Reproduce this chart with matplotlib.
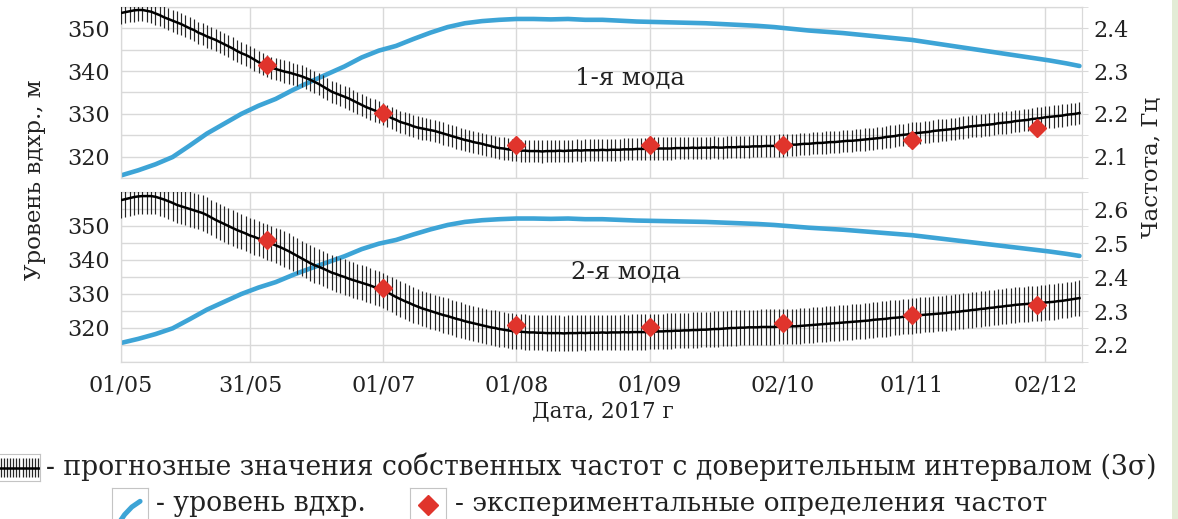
import numpy as np
import pandas as pd
import matplotlib
matplotlib.use("Agg")
import matplotlib.pyplot as plt
from matplotlib.ticker import MultipleLocator, FixedLocator
from matplotlib.patches import Rectangle

plt.rcParams['font.family'] = ['DejaVu Serif']

# ---------------------------------------------------------------- data
# daily forecast of natural frequencies, 01/05/2017 .. 10/12/2017
days = pd.date_range("2017-05-01", "2017-12-10", freq="D")

freq_mode1 = [
    2.436, 2.438, 2.440, 2.442, 2.443, 2.443, 2.441, 2.439, 2.435, 2.431,
    2.426, 2.422, 2.418, 2.414, 2.410, 2.405, 2.400, 2.396, 2.390, 2.386,
    2.381, 2.377, 2.373, 2.368, 2.363, 2.358, 2.353, 2.347, 2.342, 2.338,
    2.333, 2.327, 2.321, 2.316, 2.312, 2.308, 2.305, 2.302, 2.299, 2.297,
    2.294, 2.291, 2.288, 2.284, 2.280, 2.275, 2.270, 2.264, 2.258, 2.252,
    2.248, 2.244, 2.240, 2.236, 2.231, 2.226, 2.221, 2.216, 2.212, 2.208,
    2.204, 2.200, 2.195, 2.190, 2.186, 2.181, 2.178, 2.175, 2.171, 2.168,
    2.166, 2.164, 2.162, 2.160, 2.157, 2.154, 2.151, 2.148, 2.145, 2.142,
    2.139, 2.137, 2.134, 2.132, 2.130, 2.127, 2.125, 2.122, 2.120, 2.119,
    2.117, 2.116, 2.115, 2.114, 2.114, 2.113, 2.113, 2.113, 2.112, 2.113,
    2.113, 2.113, 2.114, 2.113, 2.114, 2.114, 2.115, 2.114, 2.115, 2.115,
    2.115, 2.115, 2.116, 2.115, 2.116, 2.116, 2.116, 2.117, 2.117, 2.117,
    2.118, 2.118, 2.118, 2.118, 2.119, 2.119, 2.119, 2.119, 2.119, 2.120,
    2.120, 2.120, 2.120, 2.121, 2.120, 2.121, 2.121, 2.121, 2.122, 2.121,
    2.121, 2.122, 2.122, 2.122, 2.123, 2.123, 2.123, 2.124, 2.124, 2.124,
    2.125, 2.125, 2.125, 2.126, 2.126, 2.127, 2.128, 2.128, 2.129, 2.130,
    2.130, 2.131, 2.132, 2.132, 2.133, 2.134, 2.134, 2.135, 2.136, 2.137,
    2.137, 2.138, 2.139, 2.140, 2.141, 2.142, 2.143, 2.144, 2.146, 2.147,
    2.148, 2.150, 2.151, 2.152, 2.154, 2.155, 2.156, 2.157, 2.158, 2.160,
    2.161, 2.162, 2.163, 2.164, 2.165, 2.167, 2.168, 2.170, 2.171, 2.172,
    2.173, 2.174, 2.175, 2.176, 2.178, 2.179, 2.180, 2.181, 2.183, 2.184,
    2.185, 2.186, 2.188, 2.189, 2.190, 2.192, 2.193, 2.194, 2.195, 2.196,
    2.198, 2.199, 2.200, 2.202,
]

freq_mode2 = [
    2.626, 2.629, 2.632, 2.635, 2.637, 2.638, 2.638, 2.638, 2.636, 2.632,
    2.628, 2.623, 2.618, 2.612, 2.608, 2.604, 2.600, 2.596, 2.592, 2.588,
    2.582, 2.575, 2.568, 2.562, 2.556, 2.550, 2.544, 2.538, 2.533, 2.528,
    2.522, 2.518, 2.513, 2.508, 2.503, 2.498, 2.493, 2.488, 2.482, 2.476,
    2.469, 2.462, 2.455, 2.448, 2.441, 2.435, 2.430, 2.425, 2.419, 2.413,
    2.409, 2.404, 2.400, 2.395, 2.391, 2.387, 2.383, 2.379, 2.375, 2.370,
    2.366, 2.361, 2.355, 2.348, 2.341, 2.335, 2.329, 2.324, 2.318, 2.313,
    2.308, 2.304, 2.300, 2.296, 2.292, 2.288, 2.285, 2.281, 2.277, 2.274,
    2.270, 2.267, 2.264, 2.261, 2.258, 2.255, 2.252, 2.250, 2.247, 2.245,
    2.243, 2.241, 2.240, 2.239, 2.238, 2.237, 2.237, 2.236, 2.236, 2.235,
    2.235, 2.235, 2.235, 2.234, 2.235, 2.235, 2.235, 2.236, 2.235, 2.236,
    2.236, 2.236, 2.237, 2.236, 2.237, 2.237, 2.237, 2.238, 2.237, 2.238,
    2.238, 2.238, 2.238, 2.239, 2.239, 2.240, 2.240, 2.241, 2.241, 2.242,
    2.242, 2.243, 2.243, 2.244, 2.244, 2.245, 2.245, 2.246, 2.247, 2.247,
    2.248, 2.249, 2.250, 2.250, 2.251, 2.251, 2.252, 2.252, 2.252, 2.253,
    2.253, 2.253, 2.253, 2.254, 2.254, 2.254, 2.255, 2.255, 2.256, 2.257,
    2.258, 2.259, 2.260, 2.261, 2.262, 2.263, 2.264, 2.265, 2.266, 2.267,
    2.268, 2.269, 2.270, 2.271, 2.272, 2.274, 2.275, 2.276, 2.277, 2.279,
    2.280, 2.281, 2.283, 2.284, 2.285, 2.287, 2.288, 2.289, 2.290, 2.291,
    2.292, 2.293, 2.294, 2.296, 2.297, 2.298, 2.300, 2.301, 2.303, 2.304,
    2.306, 2.307, 2.309, 2.310, 2.312, 2.313, 2.315, 2.316, 2.318, 2.319,
    2.320, 2.321, 2.322, 2.323, 2.324, 2.325, 2.326, 2.327, 2.329, 2.330,
    2.332, 2.334, 2.336, 2.338,
]

# 3-sigma half widths of the forecast interval, Hz
ci_mode1 = 0.026
ci_mode2 = 0.052

# reservoir level, m (every 4 days, last point on 10/12)
level_dates = pd.date_range("2017-05-01", periods=56, freq="4D").append(
    pd.DatetimeIndex(["2017-12-10"]))
level = [
    315.6, 316.8, 318.2, 319.9, 322.6, 325.4, 327.7, 330.0, 331.9, 333.5,
    335.6, 337.5, 339.3, 341.1, 343.2, 344.8, 345.9, 347.5, 349.0, 350.3,
    351.2, 351.7, 352.0, 352.2, 352.2, 352.1, 352.2, 352.0, 352.0, 351.8,
    351.6, 351.5, 351.4, 351.3, 351.2, 351.0, 350.8, 350.6, 350.3, 349.9,
    349.5, 349.2, 348.9, 348.5, 348.1, 347.7, 347.3, 346.7, 346.1, 345.5,
    344.9, 344.3, 343.7, 343.1, 342.5, 341.8, 341.2,
]

# experimental frequency determinations
exp_dates = pd.to_datetime(["2017-06-04", "2017-07-01", "2017-08-01",
                            "2017-09-01", "2017-10-02", "2017-11-01",
                            "2017-11-30"])
exp_mode1 = [2.314, 2.202, 2.127, 2.127, 2.127, 2.139, 2.167]
exp_mode2 = [2.509, 2.368, 2.259, 2.253, 2.265, 2.288, 2.318]

tick_dates = pd.to_datetime(["2017-05-01", "2017-05-31", "2017-07-01",
                             "2017-08-01", "2017-09-01", "2017-10-02",
                             "2017-11-01", "2017-12-02"])
tick_labels = ["01/05", "31/05", "01/07", "01/08", "01/09", "02/10",
               "01/11", "02/12"]
level_ticks = [320, 330, 340, 350]

# ---------------------------------------------------------------- style
BLUE = "#3da4d6"
RED = "#e0342c"
GRID = "#d9d9d9"
TXT = "#222222"
W, H = 1178, 519

fig = plt.figure(figsize=(W / 100, H / 100), dpi=100)
fig.patch.set_facecolor("white")


def px_rect(x0, y0, x1, y1):
    return [x0 / W, 1 - y1 / H, (x1 - x0) / W, (y1 - y0) / H]


panels = [
    dict(rect=px_rect(121, 7, 1082, 178), lev_lim=(315, 355),
         f_lim=(2.05, 2.45), f_ticks=[2.1, 2.2, 2.3, 2.4],
         freq=freq_mode1, ci=ci_mode1, exp=exp_mode1,
         name="1-я мода", npos=(0.530, 0.585), xlabels=False),
    dict(rect=px_rect(121, 192, 1082, 362), lev_lim=(310, 360),
         f_lim=(2.15, 2.65), f_ticks=[2.2, 2.3, 2.4, 2.5, 2.6],
         freq=freq_mode2, ci=ci_mode2, exp=exp_mode2,
         name="2-я мода", npos=(0.525, 0.529), xlabels=True),
]

xlim = (days[0], days[-1] + pd.Timedelta(hours=14))

for p in panels:
    ax = fig.add_axes(p["rect"])
    ax.plot(level_dates, level, color=BLUE, lw=3.3,
            solid_capstyle="round", solid_joinstyle="round", zorder=2)
    ax.set_ylim(*p["lev_lim"])
    ax.yaxis.set_major_locator(FixedLocator(level_ticks))
    ax.yaxis.set_minor_locator(MultipleLocator(5))
    ax.set_xlim(*xlim)
    ax.set_xticks(tick_dates)
    ax.set_axisbelow(True)
    ax.grid(which="both", axis="y", color=GRID, lw=1.0)
    ax.grid(which="major", axis="x", color=GRID, lw=1.0)
    ax.tick_params(axis="y", which="both", length=0, labelsize=16,
                   labelcolor=TXT, pad=8)
    if p["xlabels"]:
        ax.set_xticklabels(tick_labels)
        ax.tick_params(axis="x", length=0, labelsize=16, labelcolor=TXT,
                       pad=9)
    else:
        ax.tick_params(axis="x", length=0, labelbottom=False)
    for s in ax.spines.values():
        s.set_color(GRID)

    ax2 = ax.twinx()
    ax2.errorbar(days, p["freq"], yerr=p["ci"], fmt="none",
                 ecolor="#262626", elinewidth=0.85, capsize=0, zorder=3)
    ax2.plot(days, p["freq"], color="black", lw=1.8, zorder=4)
    ax2.plot(exp_dates, p["exp"], "D", color=RED, mec=RED, ms=9, zorder=5)
    ax2.set_ylim(*p["f_lim"])
    ax2.yaxis.set_major_locator(FixedLocator(p["f_ticks"]))
    ax2.yaxis.set_major_formatter(plt.FuncFormatter(lambda v, _: f"{v:.1f}"))
    ax2.yaxis.set_minor_locator(MultipleLocator(0.05))
    ax2.tick_params(axis="y", which="both", length=4, color=GRID,
                    labelsize=16, labelcolor=TXT, pad=4)
    ax2.set_xlim(*xlim)
    for s in ax2.spines.values():
        s.set_color(GRID)
    ax2.text(*p["npos"], p["name"], transform=ax2.transAxes, ha="center",
             va="center", fontsize=17.5, color=TXT)

# axis titles
fig.text(35 / W, 1 - 180 / H, "Уровень вдхр., м", rotation=90,
         ha="center", va="center", fontsize=16.5, color=TXT)
fig.text(1152 / W, 1 - 167 / H, "Частота, Гц", rotation=90,
         ha="center", va="center", fontsize=16.5, color=TXT)
fig.text(603 / W, 1 - 411 / H, "Дата, 2017 г", ha="center", va="center",
         fontsize=15.5, color=TXT)

# ---------------------------------------------------------------- legend
def key_box(x0, y0, x1, y1):
    k = fig.add_axes(px_rect(x0, y0, x1, y1))
    k.set_xlim(0, 1)
    k.set_ylim(0, 1)
    k.set_xticks([])
    k.set_yticks([])
    for s in k.spines.values():
        s.set_color("#c4c4c4")
    return k


k1 = key_box(-2, 454, 40, 481)
k1.vlines(np.arange(0.06, 1.0, 0.075), 0.15, 0.85, color="#262626", lw=0.9)
k1.axhline(0.5, color="black", lw=1.8)
fig.text(46 / W, 1 - 475 / H,
         "- прогнозные значения собственных частот с доверительным интервалом (3σ)",
         ha="left", va="baseline", fontsize=19.2, color=TXT)

k2 = key_box(112, 488, 148, 526)
k2.plot([0.22, 0.35, 0.55, 0.78], [0.12, 0.3, 0.5, 0.65], color=BLUE,
        lw=3.6, solid_capstyle="round")
fig.text(156 / W, 1 - 511 / H, "- уровень вдхр.", ha="left",
         va="baseline", fontsize=19.2, color=TXT)

k3 = key_box(410, 488, 446, 526)
k3.plot([0.5], [0.55], "D", color=RED, ms=10)
fig.text(455 / W, 1 - 511 / H, "- экспериментальные определения частот",
         ha="left", va="baseline", fontsize=19.0, color=TXT)

# tinted strip along the right edge
fig.add_artist(Rectangle((1172 / W, 0), 6 / W, 1, transform=fig.transFigure,
                         facecolor="#e3ecd6", edgecolor="none", zorder=0))

fig.savefig("out.png", dpi=100)
